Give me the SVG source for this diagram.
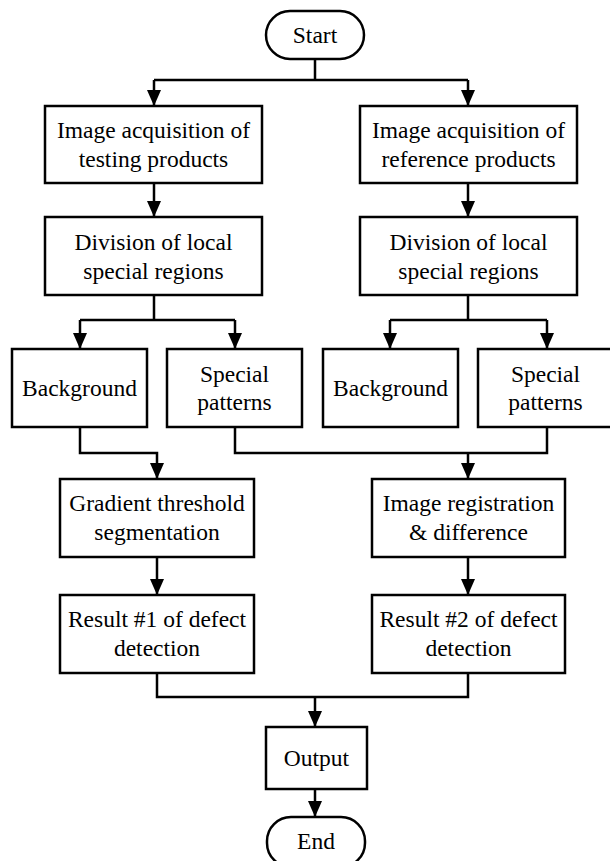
<svg xmlns="http://www.w3.org/2000/svg" width="610" height="861" viewBox="0 0 610 861">
<style>
.box{fill:#fff;stroke:#000;stroke-width:2.5}
.t{font-size:23.5px;fill:#000;text-anchor:middle}
.c{fill:none;stroke:#000;stroke-width:2.5}
</style>
<defs>
<marker id="arr" markerUnits="userSpaceOnUse" markerWidth="16" markerHeight="14" viewBox="0 0 16 14" refX="16" refY="7" orient="auto">
<path d="M0,0 L16,7 L0,14 z" fill="#000"/>
</marker>
</defs>
<rect width="610" height="861" fill="#fff"/>
<g id="connectors">
<path class="c" d="M315,59 V80 M154,80 H468"/>
<path class="c" d="M154,80 V106" marker-end="url(#arr)"/>
<path class="c" d="M468,80 V106" marker-end="url(#arr)"/>
<path class="c" d="M154,183 V217" marker-end="url(#arr)"/>
<path class="c" d="M468,183 V217" marker-end="url(#arr)"/>
<path class="c" d="M154,295 V320 M80,320 H235 M390,320 H547 M468,295 V320"/>
<path class="c" d="M80,320 V349" marker-end="url(#arr)"/>
<path class="c" d="M235,320 V349" marker-end="url(#arr)"/>
<path class="c" d="M390,320 V349" marker-end="url(#arr)"/>
<path class="c" d="M547,320 V349" marker-end="url(#arr)"/>
<path class="c" d="M80,427 V453 H157 V479" marker-end="url(#arr)"/>
<path class="c" d="M235,427 V453 H547 V427"/>
<path class="c" d="M468,453 V479" marker-end="url(#arr)"/>
<path class="c" d="M157,557 V595" marker-end="url(#arr)"/>
<path class="c" d="M468,557 V595" marker-end="url(#arr)"/>
<path class="c" d="M157,673 V697 H468 V673"/>
<path class="c" d="M315,697 V727" marker-end="url(#arr)"/>
<path class="c" d="M315,789 V817" marker-end="url(#arr)"/>
</g>
<g font-family="Liberation Serif, serif">
<g id="start"><rect class="box" x="266" y="11" width="98" height="48" rx="24"/><text class="t" x="315" y="43">Start</text></g>
<g id="acq-test"><rect class="box" x="45" y="106" width="217" height="77"/><text class="t" x="153.5" y="138">Image acquisition of</text><text class="t" x="153.5" y="167">testing products</text></g>
<g id="acq-ref"><rect class="box" x="360" y="106" width="217" height="77"/><text class="t" x="468.5" y="138">Image acquisition of</text><text class="t" x="468.5" y="167">reference products</text></g>
<g id="div-test"><rect class="box" x="45" y="217" width="217" height="78"/><text class="t" x="153.5" y="249.5">Division of local</text><text class="t" x="153.5" y="278.5">special regions</text></g>
<g id="div-ref"><rect class="box" x="360" y="217" width="217" height="78"/><text class="t" x="468.5" y="249.5">Division of local</text><text class="t" x="468.5" y="278.5">special regions</text></g>
<g id="bg-test"><rect class="box" x="12" y="349" width="135" height="78"/><text class="t" x="79.5" y="396">Background</text></g>
<g id="sp-test"><rect class="box" x="167" y="349" width="135" height="78"/><text class="t" x="234.5" y="382">Special</text><text class="t" x="234.5" y="410">patterns</text></g>
<g id="bg-ref"><rect class="box" x="323" y="349" width="135" height="78"/><text class="t" x="390.5" y="396">Background</text></g>
<g id="sp-ref"><rect class="box" x="478" y="349" width="135" height="78"/><text class="t" x="545.5" y="382">Special</text><text class="t" x="545.5" y="410">patterns</text></g>
<g id="gradient"><rect class="box" x="60" y="479" width="194" height="78"/><text class="t" x="157" y="511">Gradient threshold</text><text class="t" x="157" y="540">segmentation</text></g>
<g id="registration"><rect class="box" x="372" y="479" width="193" height="78"/><text class="t" x="468.5" y="511">Image registration</text><text class="t" x="468.5" y="540">&amp; difference</text></g>
<g id="result1"><rect class="box" x="60" y="595" width="194" height="78"/><text class="t" x="157" y="627">Result #1 of defect</text><text class="t" x="157" y="656">detection</text></g>
<g id="result2"><rect class="box" x="372" y="595" width="193" height="78"/><text class="t" x="468.5" y="627">Result #2 of defect</text><text class="t" x="468.5" y="656">detection</text></g>
<g id="output"><rect class="box" x="266" y="727" width="101" height="62"/><text class="t" x="316.5" y="766">Output</text></g>
<g id="end"><rect class="box" x="267" y="817" width="98" height="50" rx="24"/><text class="t" x="316" y="849">End</text></g>
</g>
</svg>
